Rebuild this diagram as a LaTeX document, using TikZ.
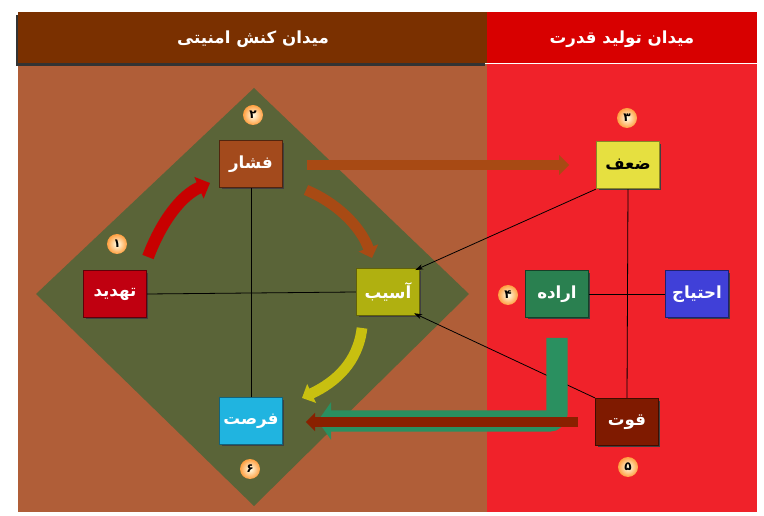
\documentclass[tikz,border=0pt]{standalone}
\usepackage{fontspec}
\usetikzlibrary{arrows.meta,shadows}
\TeXXeTstate=1
\newfontfamily\fa[Script=Arabic]{DejaVu Sans}
\definecolor{hdrL}{HTML}{7A3000}
\definecolor{hdrR}{HTML}{D80000}
\definecolor{bodyL}{HTML}{B05E38}
\definecolor{bodyR}{HTML}{F0222A}
\definecolor{diam}{HTML}{5A6438}
\definecolor{cFeshar}{HTML}{A34A1C}
\definecolor{cZaf}{HTML}{E6E040}
\definecolor{cTahdid}{HTML}{C00010}
\definecolor{cAsib}{HTML}{B0B010}
\definecolor{cErade}{HTML}{2A8050}
\definecolor{cEhtiaj}{HTML}{4040D8}
\definecolor{cForsat}{HTML}{20B4E0}
\definecolor{cQowat}{HTML}{7F1A00}
\definecolor{aRed}{HTML}{C80000}
\definecolor{aBrown}{HTML}{A84A14}
\definecolor{aYellow}{HTML}{C8C010}
\definecolor{aGreen}{HTML}{2A9060}
\definecolor{aBrown2}{HTML}{8A2000}
\begin{document}
\begin{tikzpicture}[x=0.75pt,y=-0.75pt,
  box/.style 2 args={fill=#1, draw=#2, line width=1.2pt, minimum width=47pt,
    minimum height=35pt, inner sep=0pt, text=white,
    font=\fa\bfseries\fontsize{12.5}{14}\selectfont,
    general shadow={fill=black!75, shadow xshift=1.6pt, shadow yshift=-1.6pt}},
  num/.style={circle, minimum size=15pt, inner sep=0pt, inner color=yellow!8!white,
    outer color=orange!75!white, font=\fa\bfseries\fontsize{9}{10}\selectfont, text=black},
  hdr/.style={text=white, font=\fa\bfseries\fontsize{12.5}{14}\selectfont},
  thin/.style={draw=black, line width=0.6pt},
  thinarrow/.style={thin, -{Stealth[length=6pt,width=4pt]}},
  fat/.style 2 args={draw=#1, line width=#2, -{Triangle[width=#2*1.9, length=#2*1.0]}}
]
\useasboundingbox (0,0) rectangle (764,516);
\fill[white] (0,0) rectangle (764,516);
% body
\fill[bodyL] (18,64) rectangle (487,512);
\fill[bodyR] (487,64) rectangle (757,512);
% headers
\fill[hdrL, general shadow={fill=black!80, shadow xshift=-1.5pt, shadow yshift=-2pt}] (18,12) rectangle (487,63);
\fill[hdrR] (487,12) rectangle (757,63);
\node[hdr] (hL) at (253,39) {\beginR میدان کنش امنیتی\endR};
\node[hdr] (hR) at (622,39) {\beginR میدان تولید قدرت\endR};
% diamond
\fill[diam] (254,88) -- (469,294) -- (254,506) -- (36,294) -- cycle;
% boxes
\node[box={cFeshar}{cFeshar!50!black}] (feshar) at (251,164) {\beginR فشار\endR};
\node[box={cZaf}{cZaf!60!black}, text=black] (zaf) at (628,165) {\beginR ضعف\endR};
\node[box={cTahdid}{cTahdid!50!black}] (tahdid) at (115,294) {\beginR تهدید\endR};
\node[box={cAsib}{cAsib!55!black}] (asib) at (388,292) {\beginR آسیب\endR};
\node[box={cErade}{cErade!50!black}] (erade) at (557,294) {\beginR اراده\endR};
\node[box={cEhtiaj}{cEhtiaj!50!black}] (ehtiaj) at (697,294) {\beginR احتیاج\endR};
\node[box={cForsat}{cForsat!55!black}] (forsat) at (251,421) {\beginR فرصت\endR};
\node[box={cQowat}{cQowat!50!black}] (qowat) at (627,422) {\beginR قوت\endR};
% numbers
\node[num] (n1) at (117,244) {۱};
\node[num] (n2) at (253,115) {۲};
\node[num] (n3) at (627,118) {۳};
\node[num] (n4) at (508,295) {۴};
\node[num] (n5) at (628,467) {۵};
\node[num] (n6) at (250,469) {۶};
% cross lines
\draw[thin] (feshar.south) -- (forsat.north);
\draw[thin] (tahdid.east) -- (asib.west);
\draw[thin] (zaf.south) -- (qowat.north);
\draw[thin] (erade.east) -- (ehtiaj.west);
% thin arrows
\draw[thinarrow, shorten >=-4pt] (zaf.south west) -- (asib.north east);
\draw[thinarrow, shorten >=-5pt] (qowat.north west) -- (asib.south east);
% thick arrows
\draw[fat={aBrown}{7.5pt}, shorten <=18pt, shorten >=20pt] (feshar.east |- 0,165) -- (zaf.west |- 0,165);
\coordinate (r0) at (148,257);
\coordinate (r1) at (210,183);
\draw[fat={aRed}{9pt}] (r0) .. controls (162,220) and (182,195) .. (r1);
\coordinate (b0) at (306,190);
\coordinate (b1) at (372,258);
\draw[fat={aBrown}{8pt}] (b0) .. controls (335,202) and (360,225) .. (b1);
\coordinate (y0) at (362,328);
\coordinate (y1) at (302,398);
\draw[fat={aYellow}{8pt}] (y0) .. controls (358,362) and (336,382) .. (y1);
\coordinate (g0) at (557,338);
\coordinate (g1) at (557,421);
\draw[draw=aGreen, line width=16pt, rounded corners=6pt, shorten >=26pt, -{Triangle[width=28pt,length=10pt]}]
  (g0) -- (g1) -- (forsat.east |- g1);
\draw[fat={aBrown2}{7pt}, shorten <=13pt, shorten >=17pt] (qowat.west) -- (forsat.east |- qowat.west);
\end{tikzpicture}
\end{document}
